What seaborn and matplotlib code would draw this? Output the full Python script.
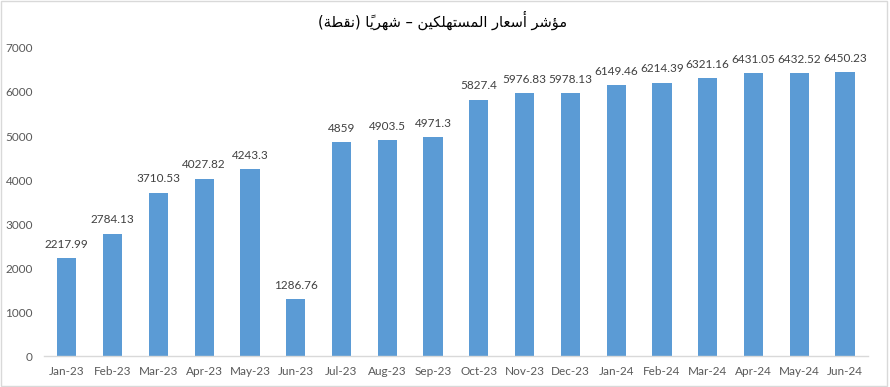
import matplotlib
matplotlib.use("Agg")
import matplotlib.pyplot as plt
import seaborn as sns
import pandas as pd
from matplotlib.patches import Rectangle

months = ["Jan-23", "Feb-23", "Mar-23", "Apr-23", "May-23", "Jun-23", "Jul-23", "Aug-23",
          "Sep-23", "Oct-23", "Nov-23", "Dec-23", "Jan-24", "Feb-24", "Mar-24", "Apr-24",
          "May-24", "Jun-24"]
cpi = [2217.99, 2784.13, 3710.53, 4027.82, 4243.3, 1286.76, 4859, 4903.5, 4971.3,
       5827.4, 5976.83, 5978.13, 6149.46, 6214.39, 6321.16, 6431.05, 6432.52, 6450.23]
title_text = "مؤشر أسعار المستهلكين – شهريًا (نقطة)"

# minimal Arabic shaping (matplotlib has no complex text layout)
FORMS = {  # isolated, final, initial, medial
    "ا": ("\uFE8D", "\uFE8E", None, None),
    "أ": ("\uFE83", "\uFE84", None, None),
    "ؤ": ("\uFE85", "\uFE86", None, None),
    "ر": ("\uFEAD", "\uFEAE", None, None),
    "ة": ("\uFE93", "\uFE94", None, None),
    "ت": ("\uFE95", "\uFE96", "\uFE97", "\uFE98"),
    "س": ("\uFEB1", "\uFEB2", "\uFEB3", "\uFEB4"),
    "ش": ("\uFEB5", "\uFEB6", "\uFEB7", "\uFEB8"),
    "ط": ("\uFEC1", "\uFEC2", "\uFEC3", "\uFEC4"),
    "ع": ("\uFEC9", "\uFECA", "\uFECB", "\uFECC"),
    "ق": ("\uFED5", "\uFED6", "\uFED7", "\uFED8"),
    "ك": ("\uFED9", "\uFEDA", "\uFEDB", "\uFEDC"),
    "ل": ("\uFEDD", "\uFEDE", "\uFEDF", "\uFEE0"),
    "م": ("\uFEE1", "\uFEE2", "\uFEE3", "\uFEE4"),
    "ن": ("\uFEE5", "\uFEE6", "\uFEE7", "\uFEE8"),
    "ه": ("\uFEE9", "\uFEEA", "\uFEEB", "\uFEEC"),
    "ي": ("\uFEF1", "\uFEF2", "\uFEF3", "\uFEF4"),
}
MARKS = {"\u064B"}


def shape_rtl(s):
    chars = list(s)

    def prev_letter(i):
        j = i - 1
        while j >= 0 and chars[j] in MARKS:
            j -= 1
        return chars[j] if j >= 0 else None

    def next_letter(i):
        j = i + 1
        while j < len(chars) and chars[j] in MARKS:
            j += 1
        return chars[j] if j < len(chars) else None

    clusters = []
    for i, c in enumerate(chars):
        if c in MARKS:
            if clusters:
                # mark drawn first, then base, in visual (LTR) order
                clusters[-1] = c + clusters[-1]
            continue
        if c in FORMS:
            p = prev_letter(i)
            n = next_letter(i)
            join_prev = p in FORMS and FORMS[p][2] is not None
            join_next = n in FORMS and FORMS[c][2] is not None
            iso, fin, ini, med = FORMS[c]
            if join_prev and join_next:
                g = med
            elif join_prev:
                g = fin
            elif join_next:
                g = ini
            else:
                g = iso
            clusters.append(g)
        else:
            clusters.append(c)
    mirror = {"(": ")", ")": "("}
    out = [mirror.get(cl, cl) for cl in reversed(clusters)]
    return "".join(out)


df = pd.DataFrame({"month": months, "cpi": cpi})

sns.set_theme(style="white")
plt.rcParams["font.family"] = ["Lato", "DejaVu Sans"]

fig = plt.figure(figsize=(8.9, 3.87), dpi=100)
ax = fig.add_axes([0.0494, 0.080, 0.9258, 0.796])

sns.barplot(data=df, x="month", y="cpi", color="#5B9BD5", width=0.42, ax=ax,
            saturation=1, edgecolor="none")

ax.set_ylim(0, 7000)
ax.set_yticks(range(0, 7001, 1000))
ax.set_xlim(-0.5, len(months) - 0.5)
ax.set_xlabel("")
ax.set_ylabel("")

for s in ["top", "right", "left"]:
    ax.spines[s].set_visible(False)
ax.spines["bottom"].set_color("#D9D9D9")
ax.spines["bottom"].set_linewidth(1)

ax.tick_params(axis="y", length=0, labelsize=8.5, labelcolor="#595959", pad=8)
ax.tick_params(axis="x", which="major", length=0, labelsize=8.5, labelcolor="#595959", pad=7)
ax.set_xticks([i - 0.5 for i in range(len(months) + 1)], minor=True)
ax.tick_params(axis="x", which="minor", length=5, color="#D9D9D9", width=1, direction="out")

ax.bar_label(ax.containers[0], labels=[f"{v:g}" for v in cpi], padding=6,
             fontsize=8.5, color="#404040")

fig.text(0.497, 0.948, shape_rtl(title_text), ha="center", va="center",
         fontsize=10.5, color="#000000", family=["DejaVu Sans"])

fig.patches.append(Rectangle((0.001, 0.002), 0.996, 0.995, transform=fig.transFigure,
                             fill=False, edgecolor="#D9D9D9", linewidth=1))

fig.savefig("out.png", dpi=100)
